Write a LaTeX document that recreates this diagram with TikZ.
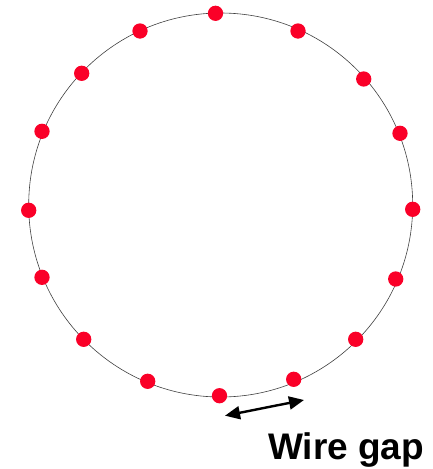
\documentclass[tikz,border=0pt]{standalone}
\usepackage{fontspec}
\setmainfont{Liberation Sans}
\usetikzlibrary{arrows.meta}
\definecolor{dotred}{RGB}{250,0,40}
\tikzset{
  wiredot/.style={circle,fill=dotred,draw=none,minimum size=15.3pt,inner sep=0pt},
  ring/.style={draw=black!75,line width=0.6pt},
  gaparrow/.style={line width=2.4pt,{Triangle[length=15pt,width=13pt]}-{Triangle[length=15pt,width=13pt]}},
  gaplabel/.style={font=\fontsize{37}{40}\selectfont\bfseries,inner sep=0pt,anchor=base west}
}
\begin{document}
\begin{tikzpicture}[x=1pt,y=-1pt]
\useasboundingbox (0,0) rectangle (433,469);
\coordinate (c) at (220.7,205);
\draw[ring] (c) circle[radius=192];
\foreach \n/\x/\y in {1/215.5/13.3, 2/298/31, 3/363.7/79, 4/400/133.3, 5/412.7/209.3, 6/395.7/279, 7/355.7/339.3, 8/293.7/379.3, 9/219.5/395.7, 10/147.7/381.3, 11/83.7/339.3, 12/42/277.3, 13/28.7/210.3, 14/42/131.3, 15/81.7/73.3, 16/140/31}
  \node[wiredot] (d\n) at (\x,\y) {};
\coordinate (ga) at (225,415.7);
\coordinate (gb) at (304,400);
\draw[gaparrow] (ga) -- (gb);
\node[gaplabel] (lbl) at (268,459) {Wire gap};
\end{tikzpicture}
\end{document}
